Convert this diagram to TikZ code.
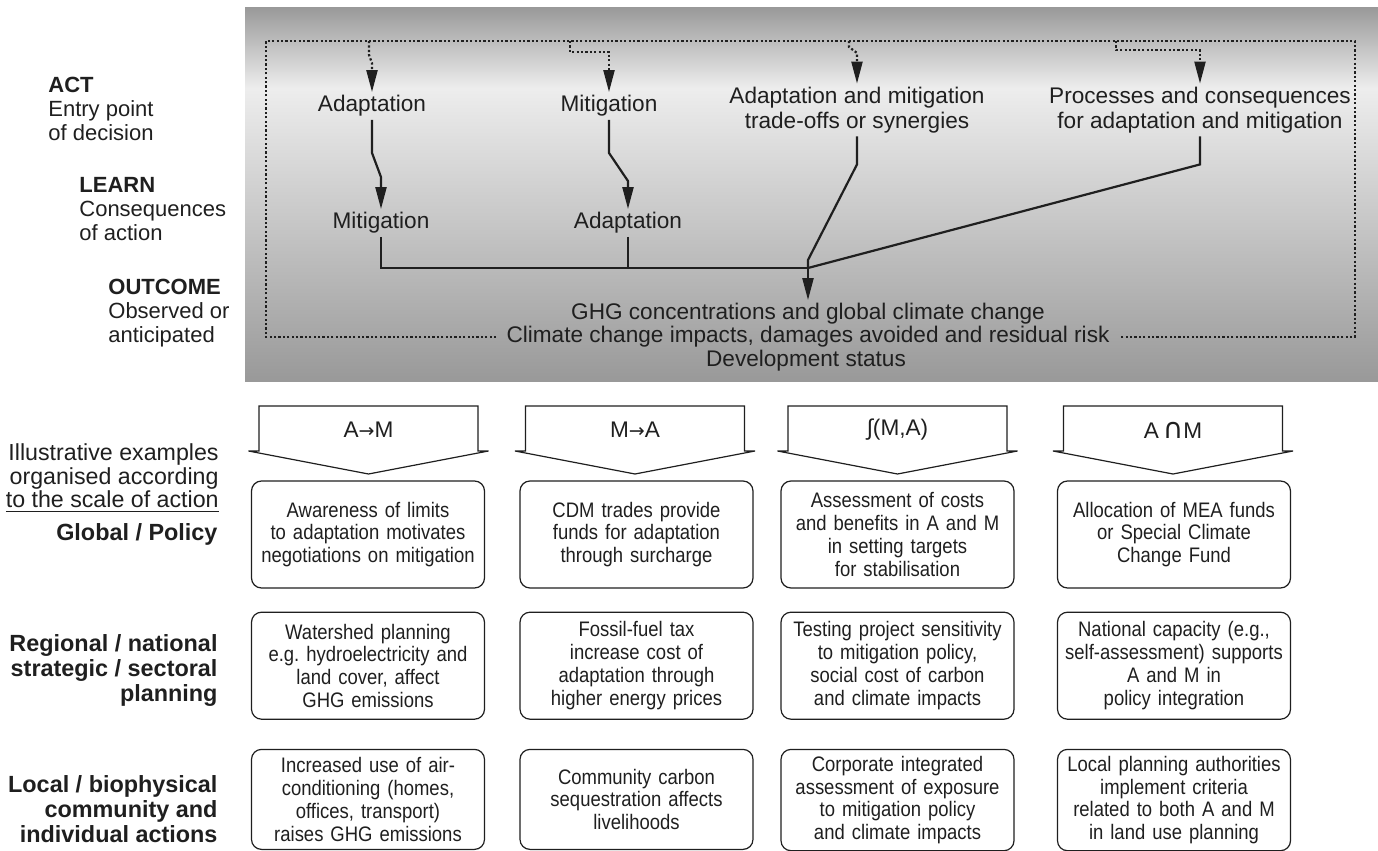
\documentclass[tikz,border=0pt]{standalone}
\usepackage{fontspec}
\setmainfont{Liberation Sans}
\newfontfamily\narrowsf[FakeStretch=0.88]{Liberation Sans}
\newfontfamily\symsf{DejaVu Sans}
\usetikzlibrary{arrows.meta,positioning,calc}
\colorlet{ink}{black!88}
\colorlet{shadeedge}{black!40}
\colorlet{shademid}{black!7}
\tikzset{
  stage/.style={align=center,inner ysep=1.5pt,text=ink,
    font=\fontsize{11.3}{12.5}\selectfont},
  note/.style={align=left,anchor=west,inner sep=0pt,text=ink,
    font=\fontsize{11}{12}\selectfont},
  levellbl/.style={align=right,anchor=east,inner sep=0pt,text=ink,
    font=\bfseries\fontsize{11.7}{12.5}\selectfont},
  ex/.style={rectangle,rounded corners=5pt,draw=ink,line width=0.6pt,
    text width=112pt,align=center,minimum height=53.5pt,inner xsep=2.25pt,
    text=ink,font=\narrowsf\fontsize{10.5}{11.4}\selectfont},
  blockarr/.style={draw=ink,line width=0.6pt},
  ln/.style={draw=ink,line width=1.1pt},
  arr/.style={ln,-{Triangle[length=11pt,width=5.5pt]}},
  dotln/.style={draw=ink,line width=1.1pt,dash pattern=on 1.1pt off 1.1pt},
  dotarr/.style={dotln,-{Triangle[length=11pt,width=5.5pt]}},
}
\newcommand{\rarr}{{\symsf\fontsize{9.5}{12}\selectfont →}}
\newcommand{\capsym}{{\symsf\fontsize{14}{12}\selectfont ∩}}
\frenchspacing

\begin{document}
\begin{tikzpicture}[x=0.5pt,y=0.5pt]
  \useasboundingbox (0,0) rectangle (1378,-851);

  % grey band
  \shade[top color=shadeedge,bottom color=shademid] (245,-7) rectangle (1378,-88);
  \shade[top color=shademid,bottom color=shadeedge] (245,-88) rectangle (1378,-381);

  % left stage labels
  \node[note] (act) at (48,-109) {\textbf{ACT}\\Entry point\\of decision};
  \node[note] (learn) at (79,-209) {\textbf{LEARN}\\Consequences\\of action};
  \node[note] (outc) at (108,-313) {\textbf{OUTCOME}\\Observed or\\anticipated};

  % act / learn
  \node[stage] (a1) at (372,-106) {Adaptation};
  \node[stage] (m2) at (609,-106) {Mitigation};
  \node[stage] (tr) at (857,-110) {Adaptation and mitigation\\trade-offs or synergies};
  \node[stage] (pr) at (1200,-110) {Processes and consequences\\for adaptation and mitigation};
  \node[stage] (m1) at (381,-223) {Mitigation};
  \node[stage] (a2) at (628,-223) {Adaptation};

  % outcome
  \node[stage] (ghg) at (808,-314) {GHG concentrations and global climate change};
  \node[stage,inner xsep=5pt] (imp) at (808,-337)
    {Climate change impacts, damages avoided and residual risk};
  \node[stage] (dev) at (806,-361) {Development status};

  % dotted frame
  \coordinate (dtl) at (266,-41);
  \coordinate (dtr) at (1355,-41);
  \coordinate (d1) at (369,-41);
  \coordinate (d2) at (570,-41);
  \coordinate (d3) at (849,-41);
  \coordinate (d4) at (1116,-41);
  \draw[dotln] (imp.west) -| (dtl) -- (dtr) |- (imp.east);
  \draw[dotarr] (d1) -- ++(0,-14) -- ++(3,-8) -- (a1.north);
  \draw[dotarr] (d2) -- ++(0,-11) -| (m2.north);
  \draw[dotarr] (d3) -- ++(0,-6) -- ++(8,-6) -- (tr.north);
  \draw[dotarr] (d4) -- ++(0,-9) -| (pr.north);

  % solid links
  \coordinate (jn) at (808,-268);
  \draw[arr] (a1.south) -- ++(0,-33) -- ($(m1.north)+(0,32)$) -- (m1.north);
  \draw[arr] (m2.south) -- ++(0,-33) -- ($(a2.north)+(0,28)$) -- (a2.north);
  \draw[ln] (m1.south) |- (jn);
  \draw[ln] (a2.south) -- (a2.south |- jn);
  \draw[ln] (tr.south) -- ++(0,-28) -- ($(jn)+(0,8)$) -- (jn);
  \draw[ln] (pr.south) -- ++(0,-28) -- (jn);
  \draw[arr] (jn) -- (ghg.north);

  % block arrows
  \coordinate (c1) at (368.5,-430);
  \coordinate (c2) at (635,-430);
  \coordinate (c3) at (897.5,-430);
  \coordinate (c4) at (1173,-430);
  \draw[blockarr] ($(c1)+(-109.5,24)$) -- ++(219,0) -- ++(0,-45) -- ++(10.5,0)
    -- ++(-120,-23) -- ++(-120,23) -- ++(10.5,0) -- cycle;
  \draw[blockarr] ($(c2)+(-109.5,24)$) -- ++(219,0) -- ++(0,-45) -- ++(10.5,0)
    -- ++(-120,-23) -- ++(-120,23) -- ++(10.5,0) -- cycle;
  \draw[blockarr] ($(c3)+(-109.5,24)$) -- ++(219,0) -- ++(0,-45) -- ++(10.5,0)
    -- ++(-120,-23) -- ++(-120,23) -- ++(10.5,0) -- cycle;
  \draw[blockarr] ($(c4)+(-109.5,24)$) -- ++(219,0) -- ++(0,-45) -- ++(10.5,0)
    -- ++(-120,-23) -- ++(-120,23) -- ++(10.5,0) -- cycle;
  \node[stage] (am) at (c1) {A\rarr M};
  \node[stage] (ma) at (c2) {M\rarr A};
  \node[stage] (intg) at (c3) {∫(M,A)};
  \node[stage] (cap) at (c4) {A\,\capsym M};

  % examples by scale of action
  \node[ex] (g1) at (368,-534.5)
    {Awareness of limits\\to adaptation motivates\\negotiations on mitigation};
  \node[ex] (g2) at (636.5,-534.5)
    {CDM trades provide\\funds for adaptation\\through surcharge};
  \node[ex] (g3) at (897.5,-534.5)
    {Assessment of costs\\and benefits in A and M\\in setting targets\\for stabilisation};
  \node[ex] (g4) at (1174,-534.5)
    {Allocation of MEA funds\\or Special Climate\\Change Fund};

  \node[ex,below=11.5pt of g1] (r1)
    {Watershed planning\\e.g. hydroelectricity and\\land cover, affect\\GHG emissions};
  \node[ex,below=11.5pt of g2] (r2)
    {Fossil-fuel tax\\increase cost of\\adaptation through\\higher energy prices};
  \node[ex,below=11.5pt of g3] (r3)
    {Testing project sensitivity\\to mitigation policy,\\social cost of carbon\\and climate impacts};
  \node[ex,below=11.5pt of g4] (r4)
    {National capacity (e.g.,\\self-assessment) supports\\A and M in\\policy integration};

  \node[ex,below=14.5pt of r1,minimum height=50pt] (l1)
    {Increased use of air-\\conditioning (homes,\\offices, transport)\\raises GHG emissions};
  \node[ex,below=14.5pt of r2,minimum height=50pt] (l2)
    {Community carbon\\sequestration affects\\livelihoods};
  \node[ex,below=14.5pt of r3,minimum height=50pt] (l3)
    {Corporate integrated\\assessment of exposure\\to mitigation policy\\and climate impacts};
  \node[ex,below=14.5pt of r4,minimum height=50pt] (l4)
    {Local planning authorities\\implement criteria\\related to both A and M\\in land use planning};

  % scale labels
  \node[levellbl,font=\fontsize{11.6}{11.8}\selectfont] (illu) at (219,-478)
    {Illustrative examples\\organised according\\\underline{to the scale of action}};
  \node[levellbl,left=16.5pt of g1] (glob) {Global / Policy};
  \node[levellbl,left=16.5pt of r1,yshift=-2.5pt] (regn)
    {Regional / national\\strategic / sectoral\\planning};
  \node[levellbl,left=16.5pt of l1,yshift=-5pt] (locl)
    {Local / biophysical\\community and\\individual actions};
\end{tikzpicture}
\end{document}
